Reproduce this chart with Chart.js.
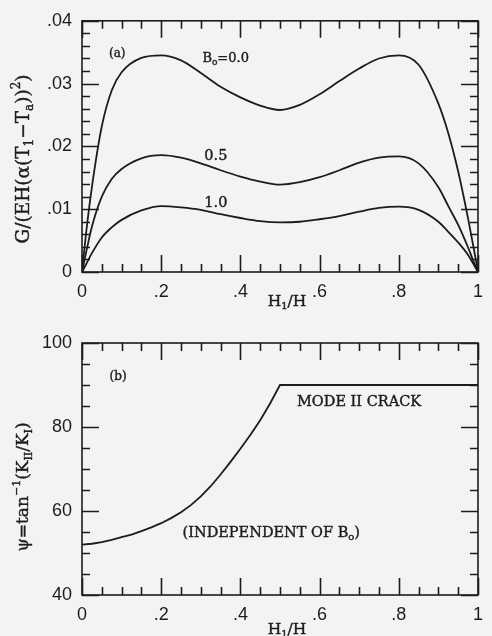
<!DOCTYPE html>
<html>
<head>
<meta charset="utf-8">
<script src="https://cdn.jsdelivr.net/npm/chart.js@4.4.1/dist/chart.umd.min.js"></script>
<style>
  html, body { margin: 0; padding: 0; background: #f3f3f1; }
  #wrap { position: relative; width: 492px; height: 636px; overflow: hidden; }
  .box { position: absolute; left: 0; width: 492px; height: 318px; }
  #boxA { top: 0; }
  #boxB { top: 318px; }
</style>
</head>
<body>
<div id="wrap">
  <div class="box" id="boxA"><canvas id="chartA" width="492" height="318"></canvas></div>
  <div class="box" id="boxB"><canvas id="chartB" width="492" height="318"></canvas></div>
</div>
<script>
// ---------------- DATA ----------------
// Panel (a): normalized energy release rate vs H1/H for three Biot numbers
const xA = [0, 0.01, 0.025, 0.05, 0.075, 0.1, 0.15, 0.2, 0.25, 0.3, 0.35, 0.4, 0.45, 0.5,
            0.55, 0.6, 0.65, 0.7, 0.75, 0.8, 0.85, 0.9, 0.925, 0.95, 0.975, 0.99, 1];
const gB00 = [0, 0.0060, 0.0135, 0.0232, 0.0289, 0.0318, 0.0341, 0.0345, 0.0337, 0.0317, 0.0295, 0.0278, 0.0265, 0.0258,
              0.0266, 0.0283, 0.0304, 0.0324, 0.0340, 0.0345, 0.0330, 0.0268, 0.0221, 0.0160, 0.0085, 0.0035, 0];
const gB05 = [0, 0.0030, 0.0072, 0.0120, 0.0148, 0.0164, 0.0181, 0.0186, 0.0182, 0.0173, 0.0162, 0.0152, 0.0144, 0.0139,
              0.0143, 0.0151, 0.0162, 0.0174, 0.0182, 0.0184, 0.0173, 0.0135, 0.0105, 0.0075, 0.0039, 0.0015, 0];
const gB10 = [0, 0.0012, 0.0030, 0.0055, 0.0071, 0.0083, 0.0098, 0.0105, 0.0103, 0.0099, 0.0092, 0.0086, 0.0081, 0.0079,
              0.0080, 0.0084, 0.0089, 0.0096, 0.0102, 0.0104, 0.0099, 0.0080, 0.0064, 0.0047, 0.0027, 0.0011, 0];

// Panel (b): mode-mix angle psi vs H1/H (independent of Bo)
const xB = [0, 0.025, 0.05, 0.075, 0.1, 0.125, 0.15, 0.175, 0.2, 0.225, 0.25, 0.275, 0.3, 0.325, 0.35,
            0.375, 0.4, 0.425, 0.45, 0.475, 0.5, 0.6, 0.7, 0.8, 0.9, 1];
const psi = [52.0, 52.2, 52.6, 53.1, 53.8, 54.4, 55.2, 56.1, 57.1, 58.3, 59.7, 61.4, 63.5, 65.9, 68.7,
             71.7, 74.8, 78.1, 81.6, 85.6, 90, 90, 90, 90, 90, 90];

// Tick settings
const xTickStep = 0.2, xMinorStep = 0.05;
const yATickStep = 0.01, yAMinorStep = 0.002;
const yBTickStep = 20, yBMinorStep = 5;

// ---------------- HELPERS ----------------
const INK = '#1c1c1c';
const SERIF = '"DejaVu Serif", "Liberation Serif", serif';
const SANS = '"Liberation Sans", Arial, sans-serif';

function pts(xs, ys) { return xs.map((x, i) => ({ x: x, y: ys[i] })); }

function drawRich(ctx, segs, x, y, size, opts) {
  opts = opts || {};
  const align = opts.align || 'center';
  const rot = opts.rotate || 0;
  const fontFor = s => `normal ${(s.sub || s.sup) ? Math.round(size * 0.66) : size}px ${SERIF}`;
  ctx.save();
  let w = 0;
  segs.forEach(s => { ctx.font = fontFor(s); w += ctx.measureText(s.t).width; });
  ctx.translate(x, y);
  ctx.rotate(rot);
  ctx.fillStyle = INK;
  ctx.strokeStyle = INK;
  ctx.lineWidth = 0.4;
  ctx.textBaseline = 'middle';
  ctx.textAlign = 'left';
  let cx = align === 'center' ? -w / 2 : 0;
  segs.forEach(s => {
    ctx.font = fontFor(s);
    const dy = s.sub ? size * 0.3 : (s.sup ? -size * 0.38 : 0);
    ctx.fillText(s.t, cx, dy);
    ctx.strokeText(s.t, cx, dy);
    cx += ctx.measureText(s.t).width;
  });
  ctx.restore();
}

function frameAndTicks(minorX, majorX, minorY, majorY) {
  return {
    id: 'frameTicks',
    afterDraw(chart) {
      const ctx = chart.ctx, a = chart.chartArea;
      const xs = chart.scales.x, ys = chart.scales.y;
      ctx.save();
      ctx.strokeStyle = INK;
      ctx.lineWidth = 1.6;
      ctx.strokeRect(a.left, a.top, a.right - a.left, a.bottom - a.top);
      const LMAJ = 17, LMIN = 8;
      const nX = Math.round((xs.max - xs.min) / minorX);
      for (let i = 0; i <= nX; i++) {
        const v = xs.min + i * minorX;
        const isMaj = Math.abs(v / majorX - Math.round(v / majorX)) < 1e-6;
        const L = isMaj ? LMAJ : LMIN;
        const p = Math.round(xs.getPixelForValue(v)) + 0.5;
        ctx.beginPath();
        ctx.moveTo(p, a.bottom); ctx.lineTo(p, a.bottom - L);
        ctx.moveTo(p, a.top); ctx.lineTo(p, a.top + L);
        ctx.stroke();
      }
      const nY = Math.round((ys.max - ys.min) / minorY);
      for (let i = 0; i <= nY; i++) {
        const v = ys.min + i * minorY;
        const isMaj = Math.abs(v / majorY - Math.round(v / majorY)) < 1e-6;
        const L = isMaj ? LMAJ : LMIN;
        const p = Math.round(ys.getPixelForValue(v)) + 0.5;
        ctx.beginPath();
        ctx.moveTo(a.left, p); ctx.lineTo(a.left + L, p);
        ctx.moveTo(a.right, p); ctx.lineTo(a.right - L, p);
        ctx.stroke();
      }
      ctx.restore();
    }
  };
}

function textPlugin(items, yTitle, yTitleY, yTitleSize, xTitleY) {
  return {
    id: 'texts',
    afterDraw(chart) {
      const ctx = chart.ctx, xs = chart.scales.x, ys = chart.scales.y;
      items.forEach(it => {
        drawRich(ctx, it.segs, xs.getPixelForValue(it.x), ys.getPixelForValue(it.y), it.size, { align: it.align });
      });
      drawRich(ctx, yTitle, 24, yTitleY, yTitleSize, { rotate: -Math.PI / 2 });
      drawRich(ctx, [{ t: 'H' }, { t: '1', sub: 1 }, { t: '/H' }], 287, xTitleY, 15.5);
    }
  };
}

const xFmt = v => (Math.abs(v) < 1e-9 ? '0' : Math.abs(v - 1) < 1e-9 ? '1' : v.toFixed(1).replace(/^0/, ''));

function baseOptions(yOpts, padTop, xHeight) {
  return {
    responsive: false,
    devicePixelRatio: 1,
    animation: false,
    events: [],
    layout: { padding: { left: 0, right: 5, top: padTop, bottom: 0 } },
    plugins: { legend: { display: false }, tooltip: { enabled: false } },
    elements: { point: { radius: 0 } },
    scales: {
      x: {
        type: 'linear', min: 0, max: 1,
        grid: { display: false, drawTicks: false, tickLength: 0 },
        border: { display: false },
        ticks: { stepSize: xTickStep, padding: 9, color: INK, font: { family: SANS, size: 18 }, maxRotation: 0, callback: xFmt },
        afterFit(s) { s.height = xHeight; }
      },
      y: Object.assign({
        type: 'linear',
        grid: { display: false, drawTicks: false, tickLength: 0 },
        border: { display: false },
        afterFit(s) { s.width = 82; }
      }, yOpts)
    }
  };
}

function lineDs(data, label) {
  return { label: label, data: data, borderColor: INK, borderWidth: 1.8, fill: false, pointRadius: 0, cubicInterpolationMode: 'monotone' };
}

// ---------------- CHART A ----------------
const annA = [
  { x: 0.089, y: 0.0348, size: 12, align: 'center', segs: [{ t: '(a)' }] },
  { x: 0.304, y: 0.0340, size: 13, align: 'left', segs: [{ t: 'B' }, { t: 'o', sub: 1 }, { t: '=0.0' }] },
  { x: 0.309, y: 0.0184, size: 14.5, align: 'left', segs: [{ t: '0.5' }] },
  { x: 0.309, y: 0.0109, size: 14.5, align: 'left', segs: [{ t: '1.0' }] }
];
const titleA = [{ t: 'G/(EH(α(T' }, { t: '1', sub: 1 }, { t: '−T' }, { t: 'a', sub: 1 }, { t: '))' }, { t: '2', sup: 1 }, { t: ')' }];

new Chart(document.getElementById('chartA'), {
  type: 'line',
  data: { datasets: [lineDs(pts(xA, gB00), 'Bo=0.0'), lineDs(pts(xA, gB05), '0.5'), lineDs(pts(xA, gB10), '1.0')] },
  options: baseOptions({
    min: 0, max: 0.04,
    ticks: { stepSize: yATickStep, padding: 10, color: INK, font: { family: SANS, size: 18 },
      callback: v => (Math.abs(v) < 1e-9 ? '0' : v.toFixed(2).replace(/^0/, '')) }
  }, 18, 46),
  plugins: [frameAndTicks(xMinorStep, xTickStep, yAMinorStep, yATickStep), textPlugin(annA, titleA, 159, 18.5, 302)]
});

// ---------------- CHART B ----------------
const annB = [
  { x: 0.091, y: 91.9, size: 12, align: 'center', segs: [{ t: '(b)' }] },
  { x: 0.543, y: 86.0, size: 14.5, align: 'left', segs: [{ t: 'MODE II CRACK' }] },
  { x: 0.254, y: 54.8, size: 14.5, align: 'left', segs: [{ t: '(INDEPENDENT OF B' }, { t: 'o', sub: 1 }, { t: ')' }] }
];
const titleB = [{ t: 'ψ=tan' }, { t: '−1', sup: 1 }, { t: '(K' }, { t: 'II', sub: 1 }, { t: '/K' }, { t: 'I', sub: 1 }, { t: ')' }];

const dsB = lineDs(pts(xB, psi), 'psi');
dsB.cubicInterpolationMode = 'default';
dsB.tension = 0;
new Chart(document.getElementById('chartB'), {
  type: 'line',
  data: { datasets: [dsB] },
  options: baseOptions({
    min: 40, max: 100,
    ticks: { stepSize: yBTickStep, padding: 10, color: INK, font: { family: SANS, size: 18 } }
  }, 25, 41),
  plugins: [frameAndTicks(xMinorStep, xTickStep, yBMinorStep, yBTickStep), textPlugin(annB, titleB, 169, 17, 312)]
});
</script>
</body>
</html>
